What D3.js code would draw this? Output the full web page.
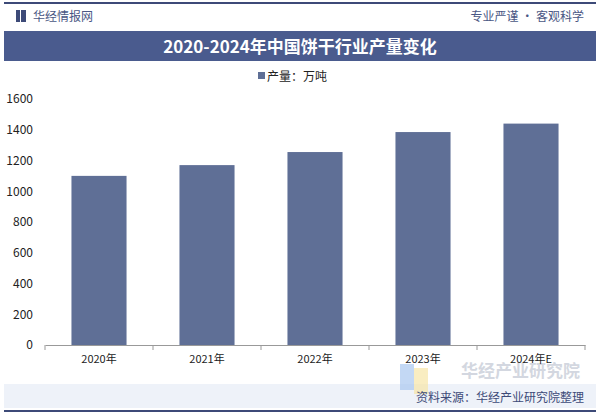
<!DOCTYPE html>
<html><head><meta charset="utf-8">
<script src="https://cdn.jsdelivr.net/npm/d3@7"></script>
<style>body{margin:0;background:#fff}text{font-family:"Noto Sans CJK SC","Noto Sans",sans-serif}</style>
</head><body>
<svg id="c" width="600" height="414"></svg>
<script>
var years = ['2020年','2021年','2022年','2023年','2024年E'];
var output = [1100, 1170, 1255, 1385, 1440];
var yTicks = [0,200,400,600,800,1000,1200,1400,1600];

var svg = d3.select('#c');

// header
svg.append('rect').attr('x',4).attr('y',2).attr('width',592).attr('height',2).attr('fill','#3d4a78');
svg.append('rect').attr('x',16).attr('y',10).attr('width',4).attr('height',12).attr('fill','#3d4a78');
svg.append('rect').attr('x',21).attr('y',10).attr('width',5).attr('height',12).attr('fill','#3d4a78');
svg.append('text').attr('x',33).attr('y',21).attr('font-size',12).attr('fill','#4a5784').text('华经情报网');
svg.append('text').attr('x',584).attr('y',21).attr('text-anchor','end').attr('font-size',12).attr('fill','#4a5784').text('专业严谨 • 客观科学');
svg.append('rect').attr('x',4).attr('y',31).attr('width',592).attr('height',30).attr('fill','#4a5b8e');
svg.append('text').attr('x',300).attr('y',53).attr('text-anchor','middle').attr('font-size',17).attr('font-weight','bold')
  .attr('font-family','"Noto Serif CJK SC","Noto Sans CJK SC",serif').attr('fill','#fff').text('2020-2024年中国饼干行业产量变化');

// legend
svg.append('rect').attr('x',258).attr('y',72).attr('width',7).attr('height',7).attr('fill','#5f6f96');
svg.append('text').attr('x',267).attr('y',81).attr('font-size',12).attr('fill','#222').text('产量：万吨');

var x = d3.scaleBand().domain(years).range([45,585]).paddingInner(0.49).paddingOuter(0.245);
var y = d3.scaleLinear().domain([0,1600]).range([345,99]);

// watermark behind the chart
svg.append('text').attr('x',580).attr('y',377).attr('text-anchor','end').attr('font-size',17).attr('font-weight','bold').attr('fill','#d3d7e0').text('华经产业研究院');

svg.append('g').selectAll('.bar').data(output).enter().append('rect')
  .attr('x',function(d,i){return x(years[i]);})
  .attr('y',function(d){return y(d);})
  .attr('width',x.bandwidth())
  .attr('height',function(d){return y(0)-y(d);})
  .attr('fill','#5f6f96');

var ya = svg.append('g').attr('transform','translate(45,0)')
  .call(d3.axisLeft(y).tickValues(yTicks).tickFormat(d3.format('d')).tickSize(0).tickPadding(12));
ya.select('.domain').remove();
ya.selectAll('text').attr('font-size',12).attr('fill','#222');

var xa = svg.append('g').attr('transform','translate(0,345)')
  .call(d3.axisBottom(x).tickSize(0).tickPadding(10));
xa.select('.domain').attr('stroke','#999');
xa.selectAll('text').attr('font-size',11).attr('fill','#222');
var edges = d3.range(6).map(function(i){return 45+i*108;});
xa.selectAll('.edge').data(edges).enter().append('line')
  .attr('x1',function(d){return d;}).attr('x2',function(d){return d;})
  .attr('y1',0).attr('y2',5).attr('stroke','#999');

// footer
svg.append('rect').attr('x',4).attr('y',384).attr('width',592).attr('height',24).attr('fill','#eef2f9');
svg.append('rect').attr('x',400).attr('y',364).attr('width',14).attr('height',26).attr('fill','#a9c8f0').attr('opacity',0.7);
svg.append('rect').attr('x',414).attr('y',368).attr('width',14).attr('height',26).attr('fill','#f6e6a6').attr('opacity',0.7);
svg.append('text').attr('x',584).attr('y',402).attr('text-anchor','end').attr('font-size',12).attr('fill','#3d4a78').text('资料来源：华经产业研究院整理');
svg.append('rect').attr('x',4).attr('y',410).attr('width',592).attr('height',2).attr('fill','#3d4a78');
</script>
</body></html>
